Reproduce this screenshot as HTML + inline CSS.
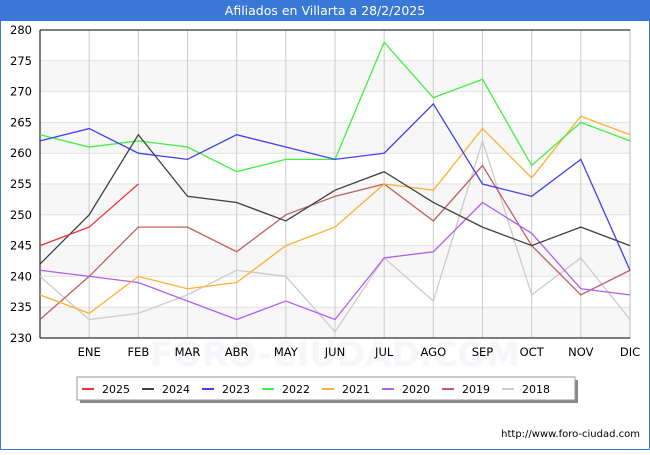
<!DOCTYPE html>
<html><head><meta charset="utf-8"><style>
body{margin:0;background:#fff;font-family:"Liberation Sans",sans-serif}
</style></head><body>
<svg id="s" width="650" height="450" xmlns="http://www.w3.org/2000/svg" font-family="DejaVu Sans, sans-serif">
<rect x="0" y="0" width="650" height="450" fill="#fff"/>
<rect x="0.5" y="0.5" width="649" height="449" fill="none" stroke="#3a78d8"/>
<rect x="0" y="0" width="650" height="21" fill="#3a78d8"/>
<text x="325" y="15" text-anchor="middle" fill="#fff" font-size="12.5">Afiliados en Villarta a 28/2/2025</text>
<g id="g"></g>
<rect x="80" y="380" width="498" height="23" fill="#888"/>
<rect x="77" y="377" width="498" height="23" fill="#fff" stroke="#999"/>
<g id="leg" font-size="11"></g>
<text x="640" y="437" text-anchor="end" font-size="10" fill="#000">http://www.foro-ciudad.com</text>
</svg>
<script>
const g=document.getElementById('g'),L=document.getElementById('leg');
const X0=40,X1=630,Y0=30,Y1=338;
const y=v=>Y1-(v-230)*(Y1-Y0)/50, x=i=>X0+i*(X1-X0)/12;
let h='';
for(let v=230;v<280;v+=10){h+=`<rect x="${X0}" y="${y(v+5)}" width="${X1-X0}" height="${y(v)-y(v+5)}" fill="#f7f7f7"/>`}
h+=`<text x="335" y="366" text-anchor="middle" font-size="34" fill="#f6f7fa" font-weight="bold">FORO-CIUDAD.COM</text>`;
for(let v=230;v<=280;v+=5){h+=`<line x1="${X0}" x2="${X1}" y1="${y(v)}" y2="${y(v)}" stroke="#e2e2e2"/>`;h+=`<text x="10" y="${y(v)+4}" font-size="11.5">${v}</text>`}
const m=['ENE','FEB','MAR','ABR','MAY','JUN','JUL','AGO','SEP','OCT','NOV','DIC'];
for(let i=1;i<=12;i++){h+=`<line x1="${x(i)}" x2="${x(i)}" y1="${Y0}" y2="${Y1}" stroke="#ccc"/>`;h+=`<text x="${x(i)}" y="356" text-anchor="middle" font-size="11.5">${m[i-1]}</text>`}
h+=`<rect x="${X0}" y="${Y0}" width="${X1-X0}" height="${Y1-Y0}" fill="none" stroke="#bbb"/>`;
h+=`<line x1="${X0}" x2="${X0}" y1="${Y0}" y2="${Y1}" stroke="#000"/><line x1="${X0}" x2="${X1}" y1="${Y1}" y2="${Y1}" stroke="#000"/><line x1="${X0}" x2="${X1}" y1="${Y0}" y2="${Y0}" stroke="#000"/>`;
const S=[
['2018','#cccccc',[240,233,234,237,241,240,231,243,236,262,237,243,233]],
['2019','#c06060',[233,240,248,248,244,250,253,255,249,258,245,237,241]],
['2020','#b060f0',[241,240,239,236,233,236,233,243,244,252,247,238,237]],
['2021','#ffb030',[237,234,240,238,239,245,248,255,254,264,256,266,263]],
['2022','#40f040',[263,261,262,261,257,259,259,278,269,272,258,265,262]],
['2023','#4040f0',[262,264,260,259,263,261,259,260,268,255,253,259,241]],
['2024','#404040',[242,250,263,253,252,249,254,257,252,248,245,248,245]],
['2025','#f03030',[245,248,255]]];
S.forEach(s=>{h+=`<polyline fill="none" stroke="${s[1]}" stroke-width="1.3" points="${s[2].map((v,i)=>x(i)+','+y(v)).join(' ')}"/>`});
g.innerHTML=h;
let l='';const lx=[82,142,202,262,322,382,442,502];
S.slice().reverse().forEach((s,i)=>{l+=`<line x1="${lx[i]}" x2="${lx[i]+12}" y1="389" y2="389" stroke="${s[1]}" stroke-width="2"/><text x="${lx[i]+20}" y="393">${s[0]}</text>`});
L.innerHTML=l;
</script>
</body></html>
